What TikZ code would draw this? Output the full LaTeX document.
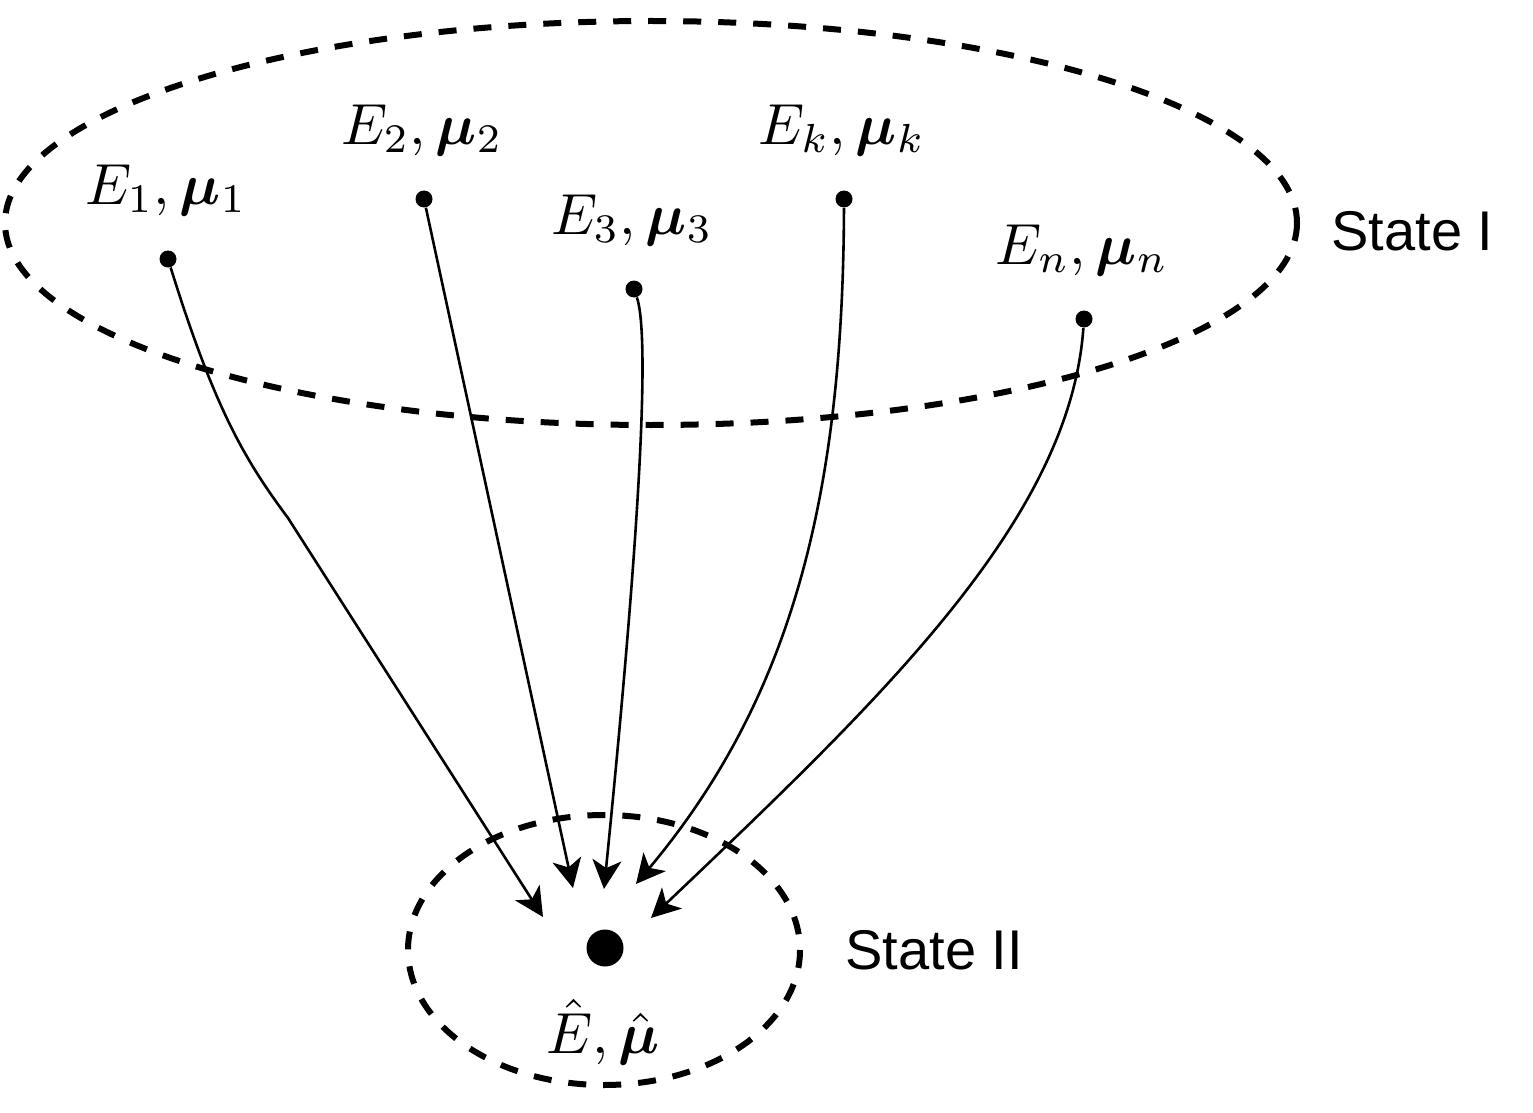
\documentclass[tikz,border=0pt]{standalone}
\usepackage{amsmath,bm}
\usepackage{fontspec}
\newfontfamily\statefont{Liberation Sans}
\usetikzlibrary{arrows.meta}
\newcommand{\biglab}[1]{\scalebox{2.9}{#1}}
\begin{document}
\begin{tikzpicture}[x=0.5pt,y=-0.5pt,
  ellbox/.style={line width=3pt,dash pattern=on 9pt off 8.5pt},
  conn/.style={line width=1.3pt,-{Stealth[length=14.5pt,width=14.5pt,inset=4pt]}},
  smalldot/.style={circle,fill=black,inner sep=0pt,minimum size=8.5pt},
  bigdot/.style={circle,fill=black,inner sep=0pt,minimum size=18.5pt},
  lab/.style={inner sep=0pt},
  statelab/.style={inner sep=0pt,anchor=west,font=\statefont\fontsize{28}{34}\selectfont}]
\useasboundingbox (0,0) rectangle (1533,1113);
% ellipses
\draw[ellbox] (651,223) ellipse [x radius=646, y radius=202];
\draw[ellbox] (604,950) ellipse [x radius=196, y radius=135];
% dots
\node[smalldot] (d1) at (168,259) {};
\node[smalldot] (d2) at (424,199) {};
\node[smalldot] (d3) at (634,289) {};
\node[smalldot] (dk) at (844,199) {};
\node[smalldot] (dn) at (1084,319) {};
\node[bigdot] (c) at (605,948) {};
% labels
\node[lab] (l1) at (166,190) {\biglab{$E_1,\bm{\mu}_1$}};
\node[lab] (l2) at (422,130) {\biglab{$E_2,\bm{\mu}_2$}};
\node[lab] (l3) at (632,220) {\biglab{$E_3,\bm{\mu}_3$}};
\node[lab] (lk) at (842,130) {\biglab{$E_k,\bm{\mu}_k$}};
\node[lab] (ln) at (1082,250) {\biglab{$E_n,\bm{\mu}_n$}};
\node[lab] (lc) at (603,1032) {\biglab{$\hat{E},\hat{\bm{\mu}}$}};
\node[statelab] (s1) at (1331,231) {State I};
\node[statelab] (s2) at (845,950) {State II};
% arrow tips
\coordinate (t1) at (543,917);
\coordinate (t2) at (573,888);
\coordinate (t3) at (604,889);
\coordinate (tk) at (636,884);
\coordinate (tn) at (651,918);
\coordinate (m1) at (288,518);
% connectors
\draw[conn] (d1) .. controls (215,410) and (245,460) .. (m1) -- (t1);
\draw[conn] (d2) -- (t2);
\draw[conn] (d3) .. controls (648,330) and (645,480) .. (t3);
\draw[conn] (dk) .. controls (843,500) and (790,700) .. (tk);
\draw[conn] (dn) .. controls (1070,520) and (880,700) .. (tn);
\end{tikzpicture}
\end{document}
